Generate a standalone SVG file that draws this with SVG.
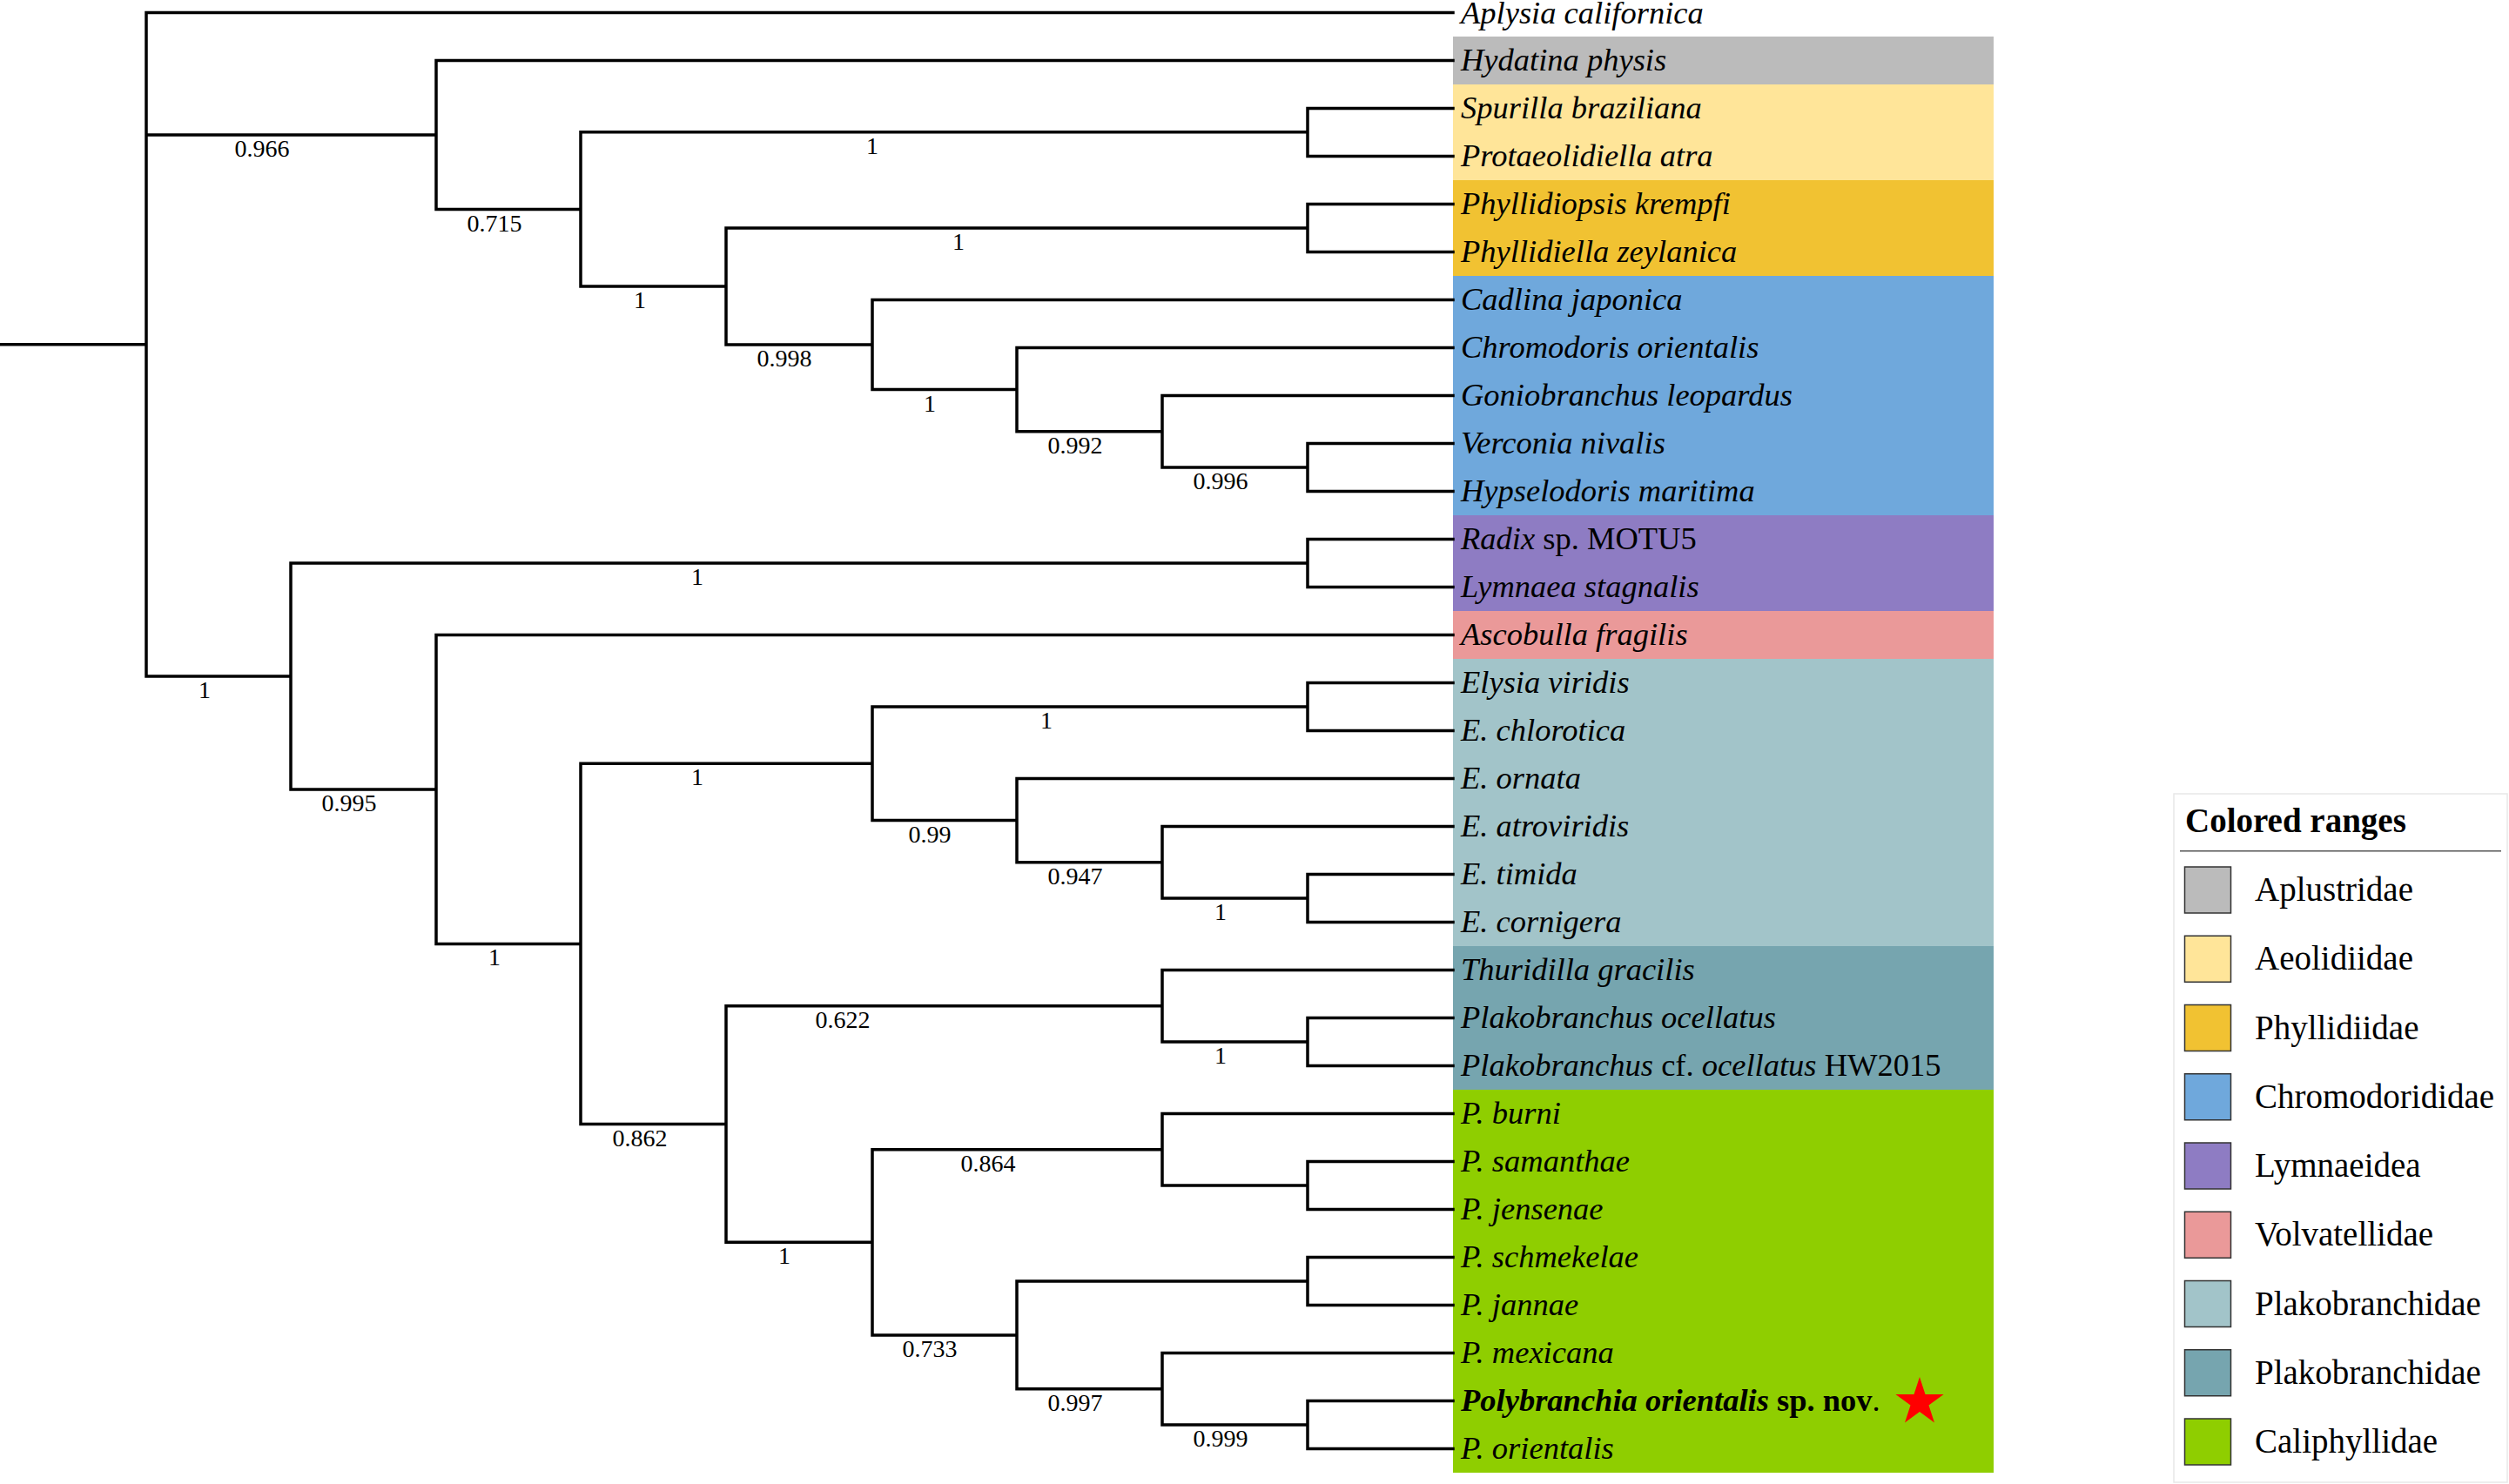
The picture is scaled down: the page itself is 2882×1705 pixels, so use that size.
<svg xmlns="http://www.w3.org/2000/svg" width="2882" height="1705" viewBox="0 0 2882 1705">
<style>
.br{fill:none;stroke:#000;stroke-width:3.5;stroke-linecap:square}
.sup{font-family:"Liberation Serif","Times New Roman",serif;font-size:28px;fill:#000;text-anchor:middle}
.leaf{font-family:"Liberation Serif","Times New Roman",serif;font-size:36.5px;fill:#000}
.it{font-style:italic}
.up{font-style:normal}
.bd{font-weight:bold}
.lgt{font-family:"Liberation Serif","Times New Roman",serif;font-size:39px;fill:#000}
.sw{stroke:#333;stroke-width:1.5}
</style>
<rect x="0" y="0" width="2882" height="1705" fill="#fff"/>
<g id="ranges">
<rect x="1669" y="42" width="621" height="55" fill="#bbbbbb"/>
<rect x="1669" y="97" width="621" height="110" fill="#ffe599"/>
<rect x="1669" y="207" width="621" height="110" fill="#f1c232"/>
<rect x="1669" y="317" width="621" height="275" fill="#6fa8dc"/>
<rect x="1669" y="592" width="621" height="110" fill="#8e7cc3"/>
<rect x="1669" y="702" width="621" height="55" fill="#ea9999"/>
<rect x="1669" y="757" width="621" height="330" fill="#a2c4c9"/>
<rect x="1669" y="1087" width="621" height="165" fill="#76a5af"/>
<rect x="1669" y="1252" width="621" height="440" fill="#8fce00"/>
</g>
<g id="connectors">
<path class="br" d="M0 395.75H168 M168 14.5V777 M168 14.5H1669 M168 155H501 M168 777H334
M501 69.5V240.5 M501 69.5H1669 M501 240.5H667
M667 151.75V329 M667 151.75H1502 M1502 124.5V179.5 M1502 124.5H1669 M1502 179.5H1669
M667 329H834 M834 262V396 M834 262H1502 M1502 234.5V289.5 M1502 234.5H1669 M1502 289.5H1669
M834 396H1002 M1002 344.5V447.6 M1002 344.5H1669 M1002 447.6H1168
M1168 399.5V495.75 M1168 399.5H1669 M1168 495.75H1335
M1335 454.5V537 M1335 454.5H1669 M1335 537H1502 M1502 509.5V564.5 M1502 509.5H1669 M1502 564.5H1669
M334 647V907 M334 647H1502 M1502 619.5V674.5 M1502 619.5H1669 M1502 674.5H1669
M334 907H501 M501 729.5V1084.4 M501 729.5H1669 M501 1084.4H667
M667 877.3V1291.5 M667 877.3H1002 M667 1291.5H834
M1002 812V942.6 M1002 812H1502 M1502 784.5V839.5 M1502 784.5H1669 M1502 839.5H1669
M1002 942.6H1168 M1168 894.5V990.75 M1168 894.5H1669 M1168 990.75H1335
M1335 949.5V1032 M1335 949.5H1669 M1335 1032H1502 M1502 1004.5V1059.5 M1502 1004.5H1669 M1502 1059.5H1669
M834 1155.75V1427.3 M834 1155.75H1335 M834 1427.3H1002
M1335 1114.5V1197 M1335 1114.5H1669 M1335 1197H1502 M1502 1169.5V1224.5 M1502 1169.5H1669 M1502 1224.5H1669
M1002 1320.75V1533.9 M1002 1320.75H1335 M1002 1533.9H1168
M1335 1279.5V1362 M1335 1279.5H1669 M1335 1362H1502 M1502 1334.5V1389.5 M1502 1334.5H1669 M1502 1389.5H1669
M1168 1472V1595.75 M1168 1472H1502 M1502 1444.5V1499.5 M1502 1444.5H1669 M1502 1499.5H1669
M1168 1595.75H1335 M1335 1554.5V1637 M1335 1554.5H1669 M1335 1637H1502 M1502 1609.5V1664.5 M1502 1609.5H1669 M1502 1664.5H1669"/>
</g>
<g id="supports">
<text class="sup" x="301" y="180">0.966</text>
<text class="sup" x="568" y="265.5">0.715</text>
<text class="sup" x="1002" y="176.75">1</text>
<text class="sup" x="735" y="354">1</text>
<text class="sup" x="1101" y="287">1</text>
<text class="sup" x="901" y="421">0.998</text>
<text class="sup" x="1068" y="472.6">1</text>
<text class="sup" x="1235" y="520.75">0.992</text>
<text class="sup" x="1402" y="562">0.996</text>
<text class="sup" x="235" y="802">1</text>
<text class="sup" x="801" y="672">1</text>
<text class="sup" x="401" y="932">0.995</text>
<text class="sup" x="568" y="1109.4">1</text>
<text class="sup" x="801" y="902.3">1</text>
<text class="sup" x="1202" y="837">1</text>
<text class="sup" x="1068" y="967.6">0.99</text>
<text class="sup" x="1235" y="1015.75">0.947</text>
<text class="sup" x="1402" y="1057">1</text>
<text class="sup" x="735" y="1316.5">0.862</text>
<text class="sup" x="968" y="1180.75">0.622</text>
<text class="sup" x="1402" y="1222">1</text>
<text class="sup" x="901" y="1452.3">1</text>
<text class="sup" x="1135" y="1345.75">0.864</text>
<text class="sup" x="1068" y="1558.9">0.733</text>
<text class="sup" x="1235" y="1620.75">0.997</text>
<text class="sup" x="1402" y="1662">0.999</text>
</g>
<g id="leaf-aplysia"><text class="leaf it" x="1678" y="26.5">Aplysia californica</text></g>
<g id="leaf-hydatina"><text class="leaf it" x="1678" y="81">Hydatina physis</text></g>
<g id="leaf-spurilla"><text class="leaf it" x="1678" y="136">Spurilla braziliana</text></g>
<g id="leaf-protaeolidiella"><text class="leaf it" x="1678" y="191">Protaeolidiella atra</text></g>
<g id="leaf-phyllidiopsis"><text class="leaf it" x="1678" y="246">Phyllidiopsis krempfi</text></g>
<g id="leaf-phyllidiella"><text class="leaf it" x="1678" y="301">Phyllidiella zeylanica</text></g>
<g id="leaf-cadlina"><text class="leaf it" x="1678" y="356">Cadlina japonica</text></g>
<g id="leaf-chromodoris"><text class="leaf it" x="1678" y="411">Chromodoris orientalis</text></g>
<g id="leaf-goniobranchus"><text class="leaf it" x="1678" y="466">Goniobranchus leopardus</text></g>
<g id="leaf-verconia"><text class="leaf it" x="1678" y="521">Verconia nivalis</text></g>
<g id="leaf-hypselodoris"><text class="leaf it" x="1678" y="576">Hypselodoris maritima</text></g>
<g id="leaf-radix"><text class="leaf" x="1678" y="631"><tspan class="it">Radix</tspan> sp. MOTU5</text></g>
<g id="leaf-lymnaea"><text class="leaf it" x="1678" y="686">Lymnaea stagnalis</text></g>
<g id="leaf-ascobulla"><text class="leaf it" x="1678" y="741">Ascobulla fragilis</text></g>
<g id="leaf-elysia"><text class="leaf it" x="1678" y="796">Elysia viridis</text></g>
<g id="leaf-chlorotica"><text class="leaf it" x="1678" y="851">E. chlorotica</text></g>
<g id="leaf-ornata"><text class="leaf it" x="1678" y="906">E. ornata</text></g>
<g id="leaf-atroviridis"><text class="leaf it" x="1678" y="961">E. atroviridis</text></g>
<g id="leaf-timida"><text class="leaf it" x="1678" y="1016">E. timida</text></g>
<g id="leaf-cornigera"><text class="leaf it" x="1678" y="1071">E. cornigera</text></g>
<g id="leaf-thuridilla"><text class="leaf it" x="1678" y="1126">Thuridilla gracilis</text></g>
<g id="leaf-plakobranchus"><text class="leaf it" x="1678" y="1181">Plakobranchus ocellatus</text></g>
<g id="leaf-plakobranchus-cf"><text class="leaf" x="1678" y="1236"><tspan class="it">Plakobranchus</tspan> cf. <tspan class="it">ocellatus</tspan> HW2015</text></g>
<g id="leaf-burni"><text class="leaf it" x="1678" y="1291">P. burni</text></g>
<g id="leaf-samanthae"><text class="leaf it" x="1678" y="1346">P. samanthae</text></g>
<g id="leaf-jensenae"><text class="leaf it" x="1678" y="1401">P. jensenae</text></g>
<g id="leaf-schmekelae"><text class="leaf it" x="1678" y="1456">P. schmekelae</text></g>
<g id="leaf-jannae"><text class="leaf it" x="1678" y="1511">P. jannae</text></g>
<g id="leaf-mexicana"><text class="leaf it" x="1678" y="1566">P. mexicana</text></g>
<g id="leaf-polybranchia-nov"><text class="leaf" x="1678" y="1621"><tspan class="it bd">Polybranchia</tspan> <tspan class="it bd">orientalis</tspan> <tspan class="bd">sp. nov</tspan>.</text>
<polygon points="2205,1582 2211.5,1602 2232.6,1602 2215.5,1614.4 2222,1634.5 2205,1622.1 2188,1634.5 2194.5,1614.4 2177.4,1602 2198.5,1602" fill="#ff0000"/></g>
<g id="leaf-orientalis"><text class="leaf it" x="1678" y="1676">P. orientalis</text></g>
<g id="legend">
<rect x="2497" y="912" width="383" height="791" fill="#fff" stroke="#e8e8e8" stroke-width="1.5"/>
<text class="lgt bd" x="2510" y="956">Colored ranges</text>
<line x1="2504" y1="977.7" x2="2873" y2="977.7" stroke="#555" stroke-width="1.5"/>
<rect class="sw" x="2509.5" y="996" width="53" height="53" fill="#bbbbbb"/>
<text class="lgt" x="2590" y="1035">Aplustridae</text>
<rect class="sw" x="2509.5" y="1075.25" width="53" height="53" fill="#ffe599"/>
<text class="lgt" x="2590" y="1114.25">Aeolidiidae</text>
<rect class="sw" x="2509.5" y="1154.5" width="53" height="53" fill="#f1c232"/>
<text class="lgt" x="2590" y="1193.5">Phyllidiidae</text>
<rect class="sw" x="2509.5" y="1233.75" width="53" height="53" fill="#6fa8dc"/>
<text class="lgt" x="2590" y="1272.75">Chromodorididae</text>
<rect class="sw" x="2509.5" y="1313" width="53" height="53" fill="#8e7cc3"/>
<text class="lgt" x="2590" y="1352">Lymnaeidea</text>
<rect class="sw" x="2509.5" y="1392.25" width="53" height="53" fill="#ea9999"/>
<text class="lgt" x="2590" y="1431.25">Volvatellidae</text>
<rect class="sw" x="2509.5" y="1471.5" width="53" height="53" fill="#a2c4c9"/>
<text class="lgt" x="2590" y="1510.5">Plakobranchidae</text>
<rect class="sw" x="2509.5" y="1550.75" width="53" height="53" fill="#76a5af"/>
<text class="lgt" x="2590" y="1589.75">Plakobranchidae</text>
<rect class="sw" x="2509.5" y="1630" width="53" height="53" fill="#8fce00"/>
<text class="lgt" x="2590" y="1669">Caliphyllidae</text>
</g>
</svg>
